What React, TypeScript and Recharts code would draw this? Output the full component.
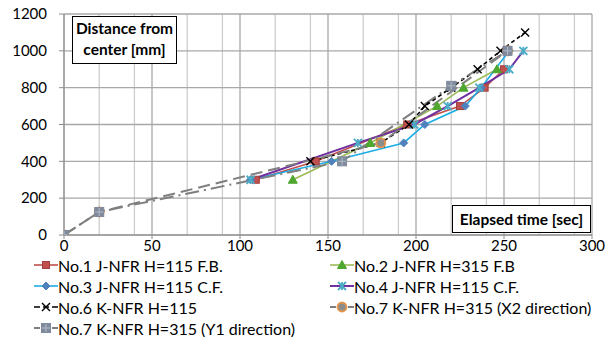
import React from "react"
import { LineChart, Line, XAxis, YAxis, CartesianGrid } from "recharts"

// elapsed time [sec] / distance from center [mm]
const no1Time = [109, 143, 195, 225, 239, 250]
const no1Dist = [300, 400, 600, 700, 800, 900]

const no2Time = [130, 174, 212, 227, 246]
const no2Dist = [300, 500, 700, 800, 900]

const no3Time = [106, 152, 193, 205, 228, 237, 253]
const no3Dist = [300, 400, 500, 600, 700, 800, 1000]

const no4Time = [106, 167, 199, 218, 236, 253, 261]
const no4Dist = [300, 500, 600, 700, 800, 900, 1000]

const no6Time = [140, 180, 196, 205, 220, 235, 248, 262]
const no6Dist = [400, 500, 600, 700, 800, 900, 1000, 1100]

const no7xTime = [0, 20, 180, 252]
const no7xDist = [0, 125, 500, 1000]

const no7yTime = [0, 20, 158, 220, 252]
const no7yDist = [0, 125, 400, 810, 1000]

const xTicks = [0, 50, 100, 150, 200, 250, 300]
const yTicks = [0, 200, 400, 600, 800, 1000, 1200]
const minorX = [10, 20, 30, 40, 60, 70, 80, 90, 110, 120, 130, 140, 160, 170, 180, 190, 210, 220, 230, 240, 260, 270, 280, 290]

const zip = (t: number[], d: number[]) => t.map((v, i) => ({ t: v, d: d[i] }))

const FONT = "Lato, 'Noto Sans', sans-serif"

type Shape = "square" | "triangle" | "diamond" | "star" | "x" | "circle" | "graysquare"

function Marker({ shape, cx, cy, fill, stroke }: { shape: Shape; cx: number; cy: number; fill: string; stroke: string }) {
  switch (shape) {
    case "square":
      return <rect x={cx - 3.5} y={cy - 3.5} width={7} height={7} fill={fill} stroke={stroke} />
    case "graysquare":
      return (
        <g>
          <rect x={cx - 4.5} y={cy - 4.5} width={9} height={9} fill={fill} stroke={stroke} />
          <path d={`M${cx - 4} ${cy}H${cx + 4}M${cx} ${cy - 4}V${cy + 4}`} stroke="#B4BCC8" strokeWidth={1} />
        </g>
      )
    case "triangle":
      return <path d={`M${cx} ${cy - 4.5}L${cx + 4.5} ${cy + 3.5}L${cx - 4.5} ${cy + 3.5}Z`} fill={fill} stroke={stroke} />
    case "diamond":
      return <path d={`M${cx} ${cy - 4}L${cx + 4} ${cy}L${cx} ${cy + 4}L${cx - 4} ${cy}Z`} fill={fill} stroke={stroke} />
    case "star":
      return (
        <path
          d={`M${cx - 4} ${cy - 4}L${cx + 4} ${cy + 4}M${cx + 4} ${cy - 4}L${cx - 4} ${cy + 4}M${cx} ${cy - 4}V${cy + 4}`}
          stroke={stroke}
          strokeWidth={1.8}
          fill="none"
        />
      )
    case "x":
      return (
        <path
          d={`M${cx - 4} ${cy - 4}L${cx + 4} ${cy + 4}M${cx + 4} ${cy - 4}L${cx - 4} ${cy + 4}`}
          stroke={stroke}
          strokeWidth={1.4}
          fill="none"
        />
      )
    case "circle":
      return <circle cx={cx} cy={cy} r={4.5} fill={fill} stroke={stroke} strokeWidth={1.8} />
  }
  return null
}

const SERIES = [
  { name: "No.1 J-NFR H=115 F.B.", data: zip(no1Time, no1Dist), color: "#C0504D", width: 1.6, dash: undefined, shape: "square" as Shape, fill: "#C0504D", mstroke: "#A33F3C" },
  { name: "No.2 J-NFR H=315 F.B", data: zip(no2Time, no2Dist), color: "#9BBB59", width: 1.6, dash: undefined, shape: "triangle" as Shape, fill: "#4EA72E", mstroke: "#4EA72E" },
  { name: "No.3 J-NFR H=115 C.F.", data: zip(no3Time, no3Dist), color: "#1CADE4", width: 1.6, dash: undefined, shape: "diamond" as Shape, fill: "#4F81BD", mstroke: "#4F81BD" },
  { name: "No.4 J-NFR H=115 C.F.", data: zip(no4Time, no4Dist), color: "#7030A0", width: 2, dash: undefined, shape: "star" as Shape, fill: "#4BACC6", mstroke: "#4BACC6" },
  { name: "No.6 K-NFR H=115", data: zip(no6Time, no6Dist), color: "#000000", width: 1.6, dash: "4 3", shape: "x" as Shape, fill: "#000000", mstroke: "#000000" },
  { name: "No.7 K-NFR H=315 (X2 direction)", data: zip(no7xTime, no7xDist), color: "#7F7F7F", width: 2, dash: "12 6", shape: "circle" as Shape, fill: "#8C8C8C", mstroke: "#E8954A" },
  { name: "No.7 K-NFR H=315 (Y1 direction)", data: zip(no7yTime, no7yDist), color: "#7F7F7F", width: 2, dash: "14 5 2 5", shape: "graysquare" as Shape, fill: "#7F8A9C", mstroke: "#7F8A9C" },
]

const LEGEND_POS = [
  { x: 34, y: 265 },
  { x: 330, y: 265 },
  { x: 34, y: 286 },
  { x: 330, y: 286 },
  { x: 34, y: 307 },
  { x: 330, y: 307 },
  { x: 34, y: 328 },
]

export default function App() {
  return (
    <div style={{ position: "relative", width: 614, height: 347, fontFamily: FONT, background: "#fff" }}>
      <style>{"body{margin:0}"}</style>
      <LineChart width={614} height={347} margin={{ top: 14, right: 22, left: 0, bottom: 92 }}>
        <CartesianGrid verticalValues={minorX} horizontal={false} stroke="#CDCDCD" strokeWidth={1.3} />
        <CartesianGrid verticalValues={xTicks} horizontalValues={yTicks} stroke="#A8A8A8" strokeWidth={1.3} />
        <XAxis
          type="number"
          dataKey="t"
          domain={[0, 300]}
          ticks={xTicks}
          allowDataOverflow
          height={20}
          tickSize={4}
          tickMargin={1}
          axisLine={{ stroke: "#8C8C8C" }}
          tickLine={{ stroke: "#8C8C8C" }}
          tick={{ fill: "#000", fontSize: 15, fontFamily: FONT }}
        />
        <YAxis
          type="number"
          dataKey="d"
          domain={[0, 1200]}
          ticks={yTicks}
          allowDataOverflow
          width={64}
          tickSize={5}
          tickMargin={12}
          axisLine={{ stroke: "#8C8C8C" }}
          tickLine={{ stroke: "#8C8C8C" }}
          tick={{ fill: "#000", fontSize: 15, fontFamily: FONT }}
        />
        {SERIES.map((s) => (
          <Line
            key={s.name}
            data={s.data}
            dataKey="d"
            name={s.name}
            stroke={s.color}
            strokeWidth={s.width}
            strokeDasharray={s.dash}
            isAnimationActive={false}
            activeDot={false}
            dot={(p: any) => (
              <Marker key={`${s.name}-${p.index}`} shape={s.shape} cx={p.cx} cy={p.cy} fill={s.fill} stroke={s.mstroke} />
            )}
          />
        ))}
      </LineChart>

      <div
        style={{
          position: "absolute",
          left: 72,
          top: 16,
          width: 103,
          height: 45,
          border: "1px solid #000",
          background: "#fff",
          fontWeight: 700,
          fontSize: 15.5,
          lineHeight: "21px",
          textAlign: "center",
          paddingTop: 1,
          whiteSpace: "nowrap",
        }}
      >
        Distance from
        <br />
        center [mm]
      </div>
      <div
        style={{
          position: "absolute",
          left: 452,
          top: 205,
          width: 137,
          height: 26,
          border: "1px solid #000",
          background: "#fff",
          fontWeight: 700,
          fontSize: 15.5,
          lineHeight: "26px",
          textAlign: "center",
          whiteSpace: "nowrap",
        }}
      >
        Elapsed time [sec]
      </div>

      {SERIES.map((s, i) => (
        <div
          key={s.name}
          style={{
            position: "absolute",
            left: LEGEND_POS[i].x,
            top: LEGEND_POS[i].y - 10,
            height: 20,
            display: "flex",
            alignItems: "center",
            fontSize: 16,
            whiteSpace: "nowrap",
          }}
        >
          <svg width={24} height={14} style={{ marginRight: 0 }}>
            <line x1={0} y1={7} x2={24} y2={7} stroke={s.color} strokeWidth={s.width} strokeDasharray={s.dash ? "6 3" : undefined} />
            <Marker shape={s.shape} cx={12} cy={7} fill={s.fill} stroke={s.mstroke} />
          </svg>
          <span>{s.name}</span>
        </div>
      ))}
    </div>
  )
}
